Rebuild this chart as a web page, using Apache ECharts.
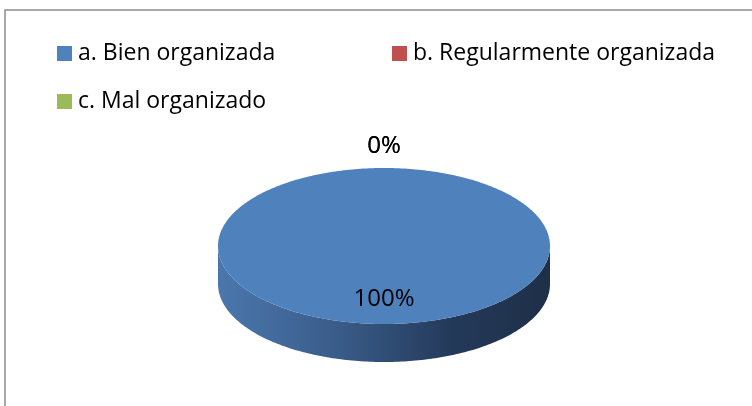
<!DOCTYPE html>
<html lang="es">
<head>
    <meta charset="UTF-8">
    <title>Organización</title>
    <script src="https://cdn.jsdelivr.net/npm/echarts@6/dist/echarts.min.js"></script>
    <style>
        body { margin: 0; background: #fff; }
        #main { width: 752px; height: 406px; }
    </style>
</head>
<body>
<div id="main"></div>
<script type="text/javascript">
    // datos del grafico
    var categories = ['a. Bien organizada', 'b. Regularmente organizada', 'c. Mal organizado'];
    var values = [100, 0, 0];
    var colors = ['#4f81bd', '#c0504d', '#9bbb59'];

    // geometria de la torta 3D
    var cx = 384, cy = 246, rx = 166, ry = 78, depth = 38;
    var fontName = '"Open Sans"';

    var total = values.reduce(function (s, v) { return s + v; }, 0);

    function pt(theta, dy) {
        // theta en grados desde las 12, sentido horario
        var r = theta * Math.PI / 180;
        return [cx + rx * Math.sin(r), cy - ry * Math.cos(r) + (dy || 0)];
    }

    function renderSlice(idx) {
        return function (params, api) {
            var v = api.value(0);
            var start = 0;
            for (var i = 0; i < idx; i++) start += values[i] / total * 360;
            var sweep = v / total * 360;
            var end = start + sweep;
            var children = [];
            var k, n;

            if (sweep > 0) {
                // lateral (solo la parte de adelante)
                var a = Math.max(start, 90), b = Math.min(end, 270);
                if (b > a) {
                    var side = [];
                    n = Math.max(2, Math.ceil(b - a));
                    for (k = 0; k <= n; k++) side.push(pt(a + (b - a) * k / n));
                    for (k = n; k >= 0; k--) side.push(pt(a + (b - a) * k / n, depth));
                    children.push({
                        type: 'polygon',
                        shape: {points: side},
                        style: {
                            fill: new echarts.graphic.LinearGradient(cx - rx, 0, cx + rx, 0, [
                                {offset: 0, color: '#4b77ae'},
                                {offset: 0.35, color: '#3a5d8a'},
                                {offset: 0.7, color: '#243a5a'},
                                {offset: 1, color: '#1e2f47'}
                            ], true)
                        }
                    });
                }
                // cara superior
                var top = [];
                n = Math.max(2, Math.ceil(sweep));
                for (k = 0; k <= n; k++) top.push(pt(start + sweep * k / n));
                if (sweep < 360) top.push([cx, cy]);
                children.push({
                    type: 'polygon',
                    shape: {points: top},
                    style: {fill: colors[idx]}
                });
            }

            // etiqueta de porcentaje
            var mid = start + sweep / 2;
            var lp;
            if (sweep > 0) {
                var r = mid * Math.PI / 180;
                lp = [cx + rx * 0.68 * Math.sin(r), cy - ry * 0.68 * Math.cos(r)];
            } else {
                var ro = mid * Math.PI / 180;
                lp = [cx + (rx + 22) * Math.sin(ro), cy - (ry + 22) * Math.cos(ro)];
            }
            children.push({
                type: 'text',
                style: {
                    x: lp[0], y: lp[1],
                    text: Math.round(v / total * 100) + '%',
                    font: '24px ' + fontName,
                    fill: '#000',
                    align: 'center',
                    verticalAlign: 'middle'
                }
            });
            return {type: 'group', children: children};
        };
    }

    var legendPos = [[57, 42], [392, 42], [57, 90]];

    var myChart = echarts.init(document.getElementById('main'));
    var option = {
        animation: false,
        legend: categories.map(function (name, i) {
            return {
                data: [name],
                left: legendPos[i][0],
                top: legendPos[i][1],
                padding: 0,
                icon: 'rect',
                itemWidth: 15,
                itemHeight: 15,
                selectedMode: false,
                textStyle: {
                    fontFamily: fontName,
                    fontSize: 23,
                    color: '#000',
                    padding: [0, 0, 0, 1]
                }
            };
        }),
        graphic: [{
            type: 'rect',
            shape: {x: 5, y: 10, width: 900, height: 600},
            style: {fill: 'none', stroke: '#8a8a8a', lineWidth: 1.5},
            silent: true
        }],
        series: categories.map(function (name, i) {
            return {
                name: name,
                type: 'custom',
                coordinateSystem: 'none',
                itemStyle: {color: colors[i]},
                renderItem: renderSlice(i),
                data: [[values[i]]],
                z: 2
            };
        })
    };
    myChart.setOption(option);
</script>
</body>
</html>
